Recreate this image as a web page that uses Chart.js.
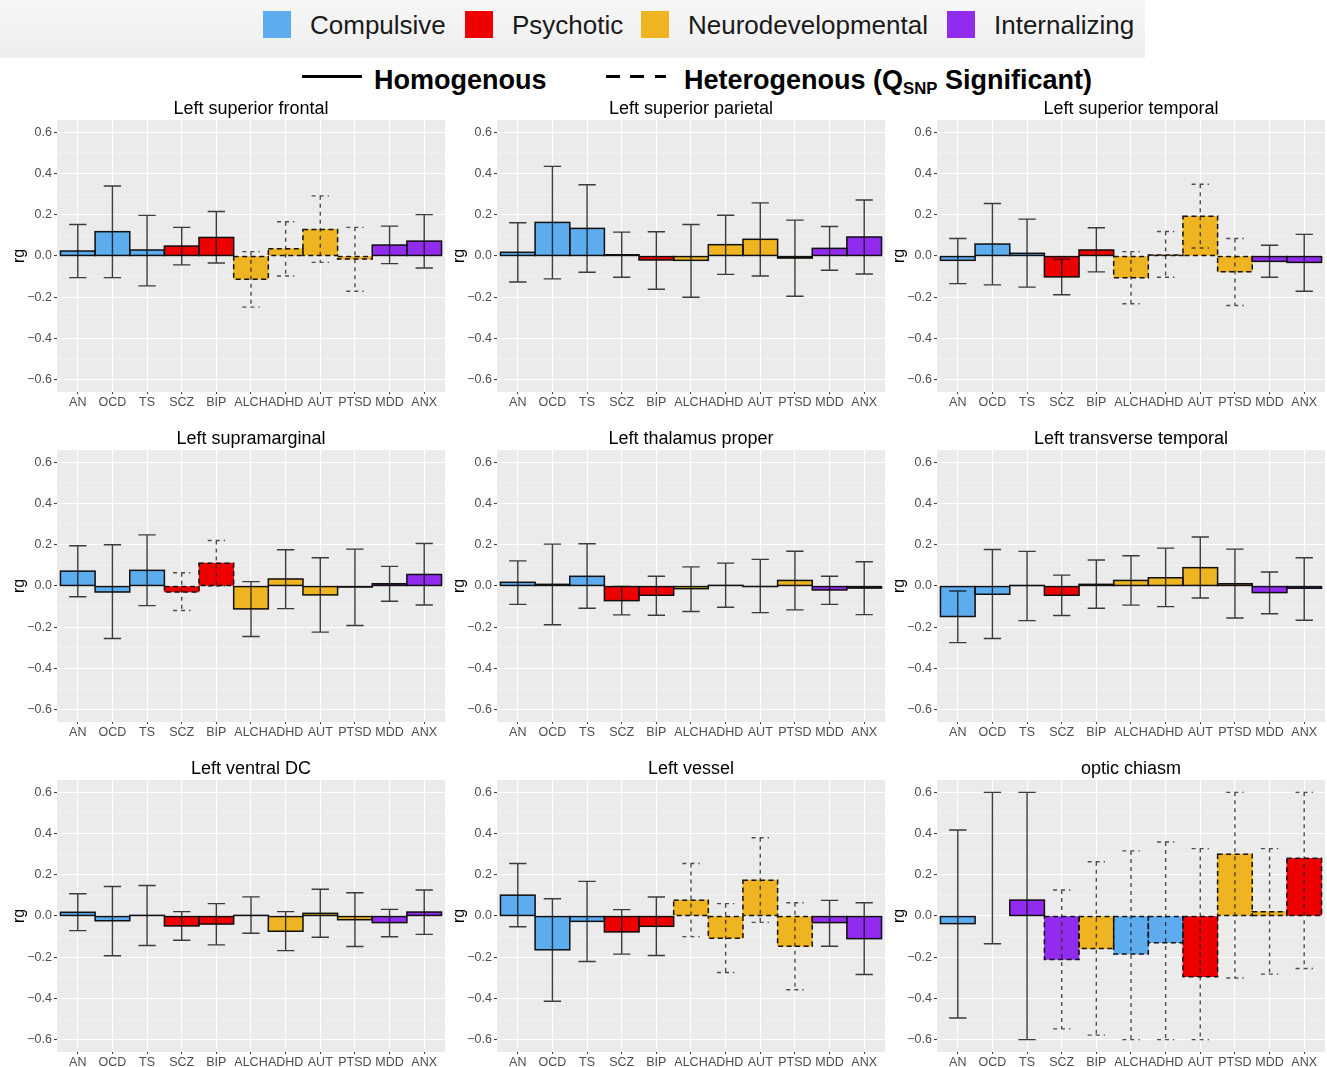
<!DOCTYPE html>
<html>
<head>
<meta charset="utf-8">
<script src="https://cdn.jsdelivr.net/npm/chart.js@4.4.1/dist/chart.umd.min.js"></script>
<style>
  html, body { margin: 0; padding: 0; background: #fff; }
  body { width: 1327px; height: 1067px; position: relative; overflow: hidden;
         font-family: "Liberation Sans", Arial, Helvetica, sans-serif; }
  .legend-band { position: absolute; left: 0; top: 0; width: 1145px; height: 58px;
                 background: linear-gradient(#f7f7f7, #eeeeee); }
  .sw { position: absolute; top: 11px; width: 28px; height: 27px; }
  .lt { position: absolute; top: 9px; font-size: 26px; line-height: 32px; color: #1a1a1a; white-space: nowrap; }
  .lb { position: absolute; top: 63px; font-size: 27px; font-weight: bold; line-height: 34px; color: #000; white-space: nowrap; }
  .lb sub { font-size: 0.62em; vertical-align: -0.28em; line-height: 0; }
  .seg { position: absolute; height: 3px; background: #000; }
  .panel { position: absolute; }
</style>
</head>
<body>
<div class="legend-band"></div>
<div id="groupLegend"></div>
<div class="seg" style="left:302px;top:75px;width:60px;"></div>
<div class="lb" style="left:374px;">Homogenous</div>
<div class="seg" style="left:606px;top:75px;width:14px;"></div>
<div class="seg" style="left:630px;top:75px;width:14px;"></div>
<div class="seg" style="left:655px;top:75px;width:11px;"></div>
<div class="lb" style="left:684px;">Heterogenous (Q<sub>SNP</sub> Significant)</div>

<script>
// ---- categories and axis ticks ----
const categories = ['AN', 'OCD', 'TS', 'SCZ', 'BIP', 'ALCH', 'ADHD', 'AUT', 'PTSD', 'MDD', 'ANX'];
const yTickValues = [-0.6, -0.5, -0.4, -0.3, -0.2, -0.1, 0, 0.1, 0.2, 0.3, 0.4, 0.5, 0.6];
const yMajorTicks = [-0.6, -0.4, -0.2, 0, 0.2, 0.4, 0.6];

// ---- disorder groups ----
const groupNames = ['Compulsive', 'Psychotic', 'Neurodevelopmental', 'Internalizing'];
const groupColors = ['#5CACEE', '#EE0000', '#EEB422', '#912CEE'];
const disorderGroup = [0, 0, 0, 1, 1, 2, 2, 2, 2, 3, 3];
const chiasmGroup   = [0, 0, 3, 3, 2, 0, 0, 1, 2, 2, 1];

// ---- genetic correlations (rg) with lower / upper CI; het = 1 where Q_SNP significant ----
const frontalRg   = [0.024, 0.118, 0.029, 0.048, 0.090, -0.113, 0.035, 0.129, -0.015, 0.053, 0.072];
const frontalLow  = [-0.105, -0.105, -0.145, -0.043, -0.034, -0.248, -0.097, -0.031, -0.171, -0.037, -0.058];
const frontalHigh = [0.153, 0.340, 0.197, 0.139, 0.216, 0.021, 0.166, 0.292, 0.139, 0.145, 0.201];
const frontalHet  = [0, 0, 0, 0, 0, 1, 1, 1, 1, 0, 0];

const parietalRg   = [0.018, 0.163, 0.134, 0.006, -0.019, -0.021, 0.055, 0.081, -0.010, 0.037, 0.092];
const parietalLow  = [-0.126, -0.111, -0.079, -0.103, -0.161, -0.200, -0.089, -0.097, -0.195, -0.069, -0.087];
const parietalHigh = [0.161, 0.435, 0.346, 0.116, 0.118, 0.153, 0.198, 0.258, 0.174, 0.143, 0.272];
const parietalHet  = [0, 0, 0, 0, 0, 0, 0, 0, 0, 0, 0];

const temporalRg   = [-0.021, 0.058, 0.013, -0.101, 0.029, -0.105, 0.005, 0.193, -0.077, -0.026, -0.031];
const temporalLow  = [-0.134, -0.140, -0.151, -0.188, -0.077, -0.232, -0.103, 0.039, -0.240, -0.103, -0.171];
const temporalHigh = [0.085, 0.255, 0.179, -0.015, 0.137, 0.021, 0.119, 0.348, 0.085, 0.052, 0.105];
const temporalHet  = [0, 0, 0, 0, 0, 1, 1, 1, 1, 0, 0];

const supramarginalRg   = [0.072, -0.029, 0.076, -0.029, 0.111, -0.111, 0.034, -0.043, -0.005, 0.011, 0.056];
const supramarginalLow  = [-0.052, -0.255, -0.095, -0.119, 0.000, -0.245, -0.110, -0.224, -0.192, -0.074, -0.092];
const supramarginalHigh = [0.195, 0.200, 0.248, 0.064, 0.221, 0.021, 0.176, 0.137, 0.179, 0.095, 0.206];
const supramarginalHet  = [0, 0, 0, 1, 1, 0, 0, 0, 0, 0, 0];

const thalamusRg   = [0.018, 0.008, 0.047, -0.071, -0.045, -0.013, 0.003, -0.002, 0.027, -0.019, -0.010];
const thalamusLow  = [-0.089, -0.188, -0.108, -0.140, -0.142, -0.124, -0.103, -0.129, -0.116, -0.089, -0.139];
const thalamusHigh = [0.122, 0.203, 0.205, -0.002, 0.047, 0.093, 0.111, 0.129, 0.169, 0.047, 0.118];
const thalamusHet  = [0, 0, 0, 0, 0, 0, 0, 0, 0, 0, 0];

const transverseRg   = [-0.148, -0.040, 0.002, -0.045, 0.008, 0.027, 0.040, 0.089, 0.011, -0.032, -0.011];
const transverseLow  = [-0.275, -0.255, -0.168, -0.143, -0.108, -0.093, -0.100, -0.058, -0.155, -0.135, -0.166];
const transverseHigh = [-0.024, 0.177, 0.168, 0.053, 0.126, 0.147, 0.184, 0.238, 0.179, 0.068, 0.137];
const transverseHet  = [0, 0, 0, 0, 0, 0, 0, 0, 0, 0, 0];

const ventralDCRg   = [0.018, -0.023, 0.003, -0.048, -0.039, 0.003, -0.074, 0.013, -0.018, -0.032, 0.019];
const ventralDCLow  = [-0.071, -0.193, -0.143, -0.118, -0.140, -0.084, -0.168, -0.103, -0.148, -0.101, -0.089];
const ventralDCHigh = [0.108, 0.143, 0.148, 0.021, 0.060, 0.093, 0.021, 0.130, 0.113, 0.032, 0.126];
const ventralDCHet  = [0, 0, 0, 0, 0, 0, 0, 0, 0, 0, 0];

const vesselRg   = [0.101, -0.164, -0.026, -0.077, -0.050, 0.077, -0.108, 0.174, -0.147, -0.032, -0.110];
const vesselLow  = [-0.052, -0.414, -0.221, -0.185, -0.192, -0.100, -0.274, -0.031, -0.358, -0.147, -0.284];
const vesselHigh = [0.255, 0.084, 0.168, 0.031, 0.092, 0.255, 0.060, 0.380, 0.064, 0.076, 0.064];
const vesselHet  = [0, 0, 0, 0, 0, 1, 1, 1, 1, 0, 0];

const chiasmRg   = [-0.037, null, 0.077, -0.211, -0.158, -0.184, -0.130, -0.295, 0.300, 0.021, 0.280];
const chiasmLow  = [-0.495, -0.135, -0.600, -0.548, -0.578, -0.600, -0.600, -0.600, -0.301, -0.282, -0.255];
const chiasmHigh = [0.417, 0.600, 0.600, 0.126, 0.263, 0.316, 0.359, 0.327, 0.600, 0.327, 0.600];
const chiasmHet  = [0, 0, 0, 1, 1, 1, 1, 1, 1, 1, 1];

const panels = [
  { title: 'Left superior frontal',    rg: frontalRg,       low: frontalLow,       high: frontalHigh,       het: frontalHet,       group: disorderGroup },
  { title: 'Left superior parietal',   rg: parietalRg,      low: parietalLow,      high: parietalHigh,      het: parietalHet,      group: disorderGroup },
  { title: 'Left superior temporal',   rg: temporalRg,      low: temporalLow,      high: temporalHigh,      het: temporalHet,      group: disorderGroup },
  { title: 'Left supramarginal',       rg: supramarginalRg, low: supramarginalLow, high: supramarginalHigh, het: supramarginalHet, group: disorderGroup },
  { title: 'Left thalamus proper',     rg: thalamusRg,      low: thalamusLow,      high: thalamusHigh,      het: thalamusHet,      group: disorderGroup },
  { title: 'Left transverse temporal', rg: transverseRg,    low: transverseLow,    high: transverseHigh,    het: transverseHet,    group: disorderGroup },
  { title: 'Left ventral DC',          rg: ventralDCRg,     low: ventralDCLow,     high: ventralDCHigh,     het: ventralDCHet,     group: disorderGroup },
  { title: 'Left vessel',              rg: vesselRg,        low: vesselLow,        high: vesselHigh,        het: vesselHet,        group: disorderGroup },
  { title: 'optic chiasm',             rg: chiasmRg,        low: chiasmLow,        high: chiasmHigh,        het: chiasmHet,        group: chiasmGroup }
];

// ---- group legend (top band) ----
const legendSwatchX = [263, 465, 641, 947];
const legendHost = document.getElementById('groupLegend');
groupNames.forEach((name, i) => {
  const sw = document.createElement('div');
  sw.className = 'sw';
  sw.style.left = legendSwatchX[i] + 'px';
  sw.style.background = groupColors[i];
  legendHost.appendChild(sw);
  const t = document.createElement('div');
  t.className = 'lt';
  t.style.left = (legendSwatchX[i] + 47) + 'px';
  t.textContent = name;
  legendHost.appendChild(t);
});

// ---- chart drawing ----
const FONT = '"Liberation Sans", Arial, Helvetica, sans-serif';
Chart.defaults.font.family = FONT;

const isMajor = v => yMajorTicks.some(m => Math.abs(m - v) < 1e-9);
const fmtTick = v => {
  const r = Math.round(v * 10) / 10;
  if (Math.abs(r) < 1e-9) return '0.0';
  return (r < 0 ? '\u2212' : '') + Math.abs(r).toFixed(1);
};

// grey panel background (ggplot style)
const panelBackground = {
  id: 'panelBackground',
  beforeDraw(chart) {
    const { ctx, chartArea: a } = chart;
    ctx.save();
    ctx.fillStyle = '#EBEBEB';
    ctx.fillRect(a.left, a.top, a.right - a.left, a.bottom - a.top);
    ctx.restore();
  }
};

// bar outlines (solid or dashed) and confidence-interval whiskers
const outlinesAndWhiskers = {
  id: 'outlinesAndWhiskers',
  afterDatasetsDraw(chart, args, opts) {
    const p = opts.panel;
    const { ctx } = chart;
    const xs = chart.scales.x, ys = chart.scales.y;
    const meta = chart.getDatasetMeta(0);
    ctx.save();
    meta.data.forEach((bar, i) => {
      if (p.rg[i] === null) return;
      const { x, y, base, width } = bar.getProps(['x', 'y', 'base', 'width'], true);
      ctx.lineWidth = 1.5;
      ctx.strokeStyle = '#111';
      ctx.setLineDash(p.het[i] ? [5, 3.5] : []);
      ctx.strokeRect(x - width / 2, Math.min(y, base), width, Math.abs(base - y));
    });
    categories.forEach((c, i) => {
      const xc = xs.getPixelForValue(i);
      const hw = xs.getPixelForValue(i + 0.25) - xc;
      const yl = ys.getPixelForValue(p.low[i]);
      const yh = ys.getPixelForValue(p.high[i]);
      ctx.lineWidth = 1.4;
      ctx.strokeStyle = p.het[i] ? 'rgba(35,35,35,0.8)' : 'rgba(20,20,20,0.82)';
      ctx.setLineDash(p.het[i] ? [4, 4] : []);
      ctx.beginPath();
      ctx.moveTo(xc - hw, yh); ctx.lineTo(xc + hw, yh);
      ctx.moveTo(xc, yh); ctx.lineTo(xc, yl);
      ctx.moveTo(xc - hw, yl); ctx.lineTo(xc + hw, yl);
      ctx.stroke();
    });
    ctx.restore();
  }
};

const colLeft = [0, 440, 880];
const rowTop = [95, 425, 755];

panels.forEach((p, k) => {
  const col = k % 3, row = Math.floor(k / 3);
  const W = col === 2 ? 447 : 450;
  const H = row === 2 ? 312 : 320;
  const holder = document.createElement('div');
  holder.className = 'panel';
  holder.style.left = colLeft[col] + 'px';
  holder.style.top = rowTop[row] + 'px';
  holder.style.width = W + 'px';
  holder.style.height = H + 'px';
  const cv = document.createElement('canvas');
  cv.width = W; cv.height = H;
  cv.style.width = W + 'px'; cv.style.height = H + 'px';
  holder.appendChild(cv);
  document.body.appendChild(holder);

  new Chart(cv, {
    type: 'bar',
    data: {
      datasets: [{
        data: p.rg.map((v, i) => ({ x: i, y: v })),
        backgroundColor: p.group.map(g => groupColors[g]),
        borderWidth: 0,
        barPercentage: 1,
        categoryPercentage: 1
      }]
    },
    options: {
      responsive: false,
      animation: false,
      layout: { padding: { top: 0, right: W - 445, bottom: 0, left: 0 } },
      plugins: {
        legend: { display: false },
        tooltip: { enabled: false },
        title: {
          display: true, text: p.title, color: '#000', fullSize: false,
          font: { size: 18, weight: 'normal', lineHeight: 1.2 },
          padding: { top: 3.4, bottom: 0 }
        },
        outlinesAndWhiskers: { panel: p }
      },
      scales: {
        x: {
          type: 'linear', min: -0.6, max: 10.6, offset: false,
          afterBuildTicks: a => { a.ticks = categories.map((c, i) => ({ value: i })); },
          afterFit: s => { s.height = H - 297; },
          ticks: {
            autoSkip: false, maxRotation: 0, minRotation: 0,
            color: '#4D4D4D', font: { size: 12.5 }, padding: 1,
            callback: v => categories[v]
          },
          grid: { offset: false, color: '#FFFFFF', lineWidth: 1.1, tickColor: '#333', tickLength: 2, tickWidth: 1 },
          border: { display: false }
        },
        y: {
          type: 'linear', min: -0.66, max: 0.66,
          afterBuildTicks: a => { a.ticks = yTickValues.map(v => ({ value: v })); },
          afterFit: s => { s.width = 57; },
          ticks: {
            color: '#4D4D4D', font: { size: 12.5 }, padding: 2,
            callback: v => isMajor(v) ? fmtTick(v) : ''
          },
          grid: {
            color: c => isMajor(c.tick.value) ? '#FFFFFF' : 'rgba(255,255,255,0.55)',
            lineWidth: c => isMajor(c.tick.value) ? 1.1 : 0.6,
            tickColor: c => isMajor(c.tick.value) ? '#333' : 'rgba(0,0,0,0)',
            tickLength: 3, tickWidth: 1
          },
          border: { display: false },
          title: {
            display: true, text: 'rg', color: '#000',
            font: { size: 16 }, padding: { top: 10, bottom: 0 }
          }
        }
      }
    },
    plugins: [panelBackground, outlinesAndWhiskers]
  });
});
</script>
</body>
</html>
